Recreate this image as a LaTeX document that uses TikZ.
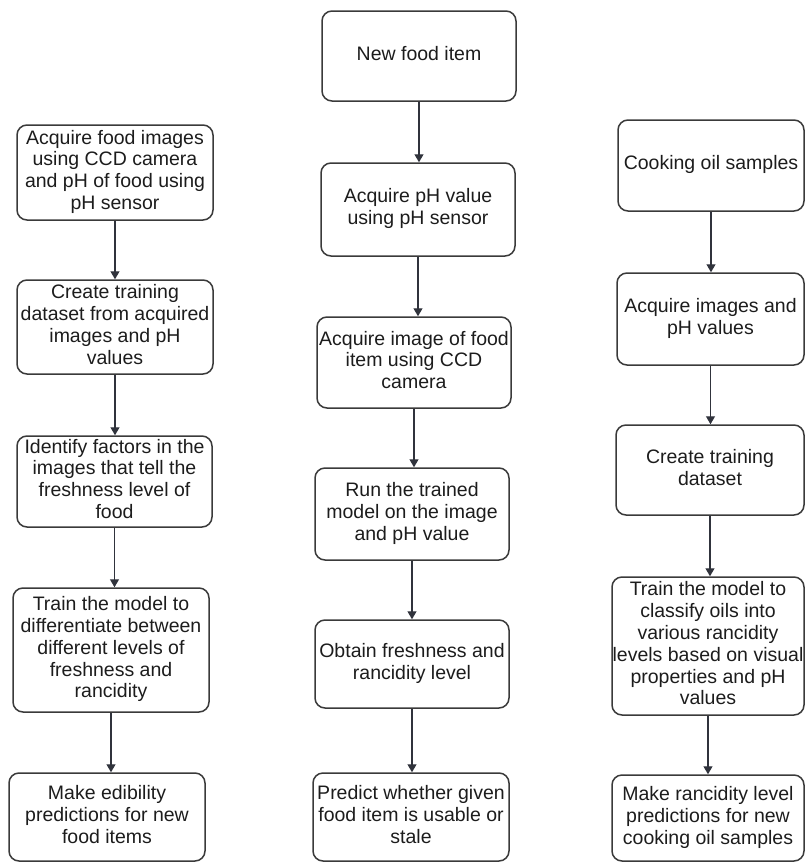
\documentclass[tikz,border=0pt]{standalone}
\usepackage{fontspec}
\setmainfont{Liberation Sans}
\usetikzlibrary{arrows.meta}
\definecolor{boxc}{HTML}{3A3A3A}
\definecolor{arrc}{HTML}{30333C}
\definecolor{txtc}{HTML}{1C1C1C}
\newcommand{\boxtext}[1]{\makebox[0pt]{\begin{tabular}{@{}c@{}}#1\end{tabular}}}
\newcommand{\rbox}[6]{%
  \node[flowbox, minimum width={(#4-#2)*1pt}, minimum height={(#5-#3)*1pt}]
    (#1) at ({(#2+#4)/2},{(#3+#5)/2}) {\boxtext{#6}};}
\tikzset{
  flowbox/.style={draw=boxc, line width=1.5pt, rounded corners=10pt, inner sep=0pt,
    text=txtc, font=\fontsize{19.5}{21.8}\selectfont},
  arr/.style={draw=arrc, line width=1.3pt, -{Triangle[width=9pt,length=8pt]}}
}
\begin{document}
\begin{tikzpicture}[x=1pt,y=-1pt]
\useasboundingbox (0,0) rectangle (806,863);
% left column
\rbox{L1}{17}{125}{213}{220}{Acquire food images\\using CCD camera\\and pH of food using\\pH sensor}
\rbox{L2}{17}{280}{213}{374}{Create training\\dataset from acquired\\images and pH\\values}
\rbox{L3}{17}{436}{212}{527}{Identify factors in the\\images that tell the\\freshness level of\\food}
\rbox{L4}{13}{588}{209}{712}{Train the model to\\differentiate between\\different levels of\\freshness and\\rancidity}
\rbox{L5}{9}{773}{205}{861}{Make edibility\\predictions for new\\food items}
% middle column
\rbox{M1}{322}{11}{516}{101}{New food item}
\rbox{M2}{321}{163}{515}{256}{Acquire pH value\\using pH sensor}
\rbox{M3}{317}{317}{511}{408}{Acquire image of food\\item using CCD\\camera}
\rbox{M4}{315}{468}{509}{560}{Run the trained\\model on the image\\and pH value}
\rbox{M5}{315}{620}{509}{708}{Obtain freshness and\\rancidity level}
\rbox{M6}{313}{773}{509}{861}{Predict whether given\\food item is usable or\\stale}
% right column
\rbox{R1}{618}{120}{804}{211}{Cooking oil samples}
\rbox{R2}{617}{273}{804}{365}{Acquire images and\\pH values}
\rbox{R3}{616}{425}{804}{515}{Create training\\dataset}
\rbox{R4}{612}{577}{804}{715}{Train the model to\\classify oils into\\various rancidity\\levels based on visual\\properties and pH\\values}
\rbox{R5}{612}{775}{804}{861}{Make rancidity level\\predictions for new\\cooking oil samples}
% arrows
\foreach \a/\b in {L1/L2,L2/L3,L3/L4,L4/L5,M1/M2,M2/M3,M3/M4,M4/M5,M5/M6,R1/R2,R2/R3,R3/R4,R4/R5}
  \draw[arr] (\a.south) -- (\a.south |- \b.north);
\end{tikzpicture}
\end{document}
